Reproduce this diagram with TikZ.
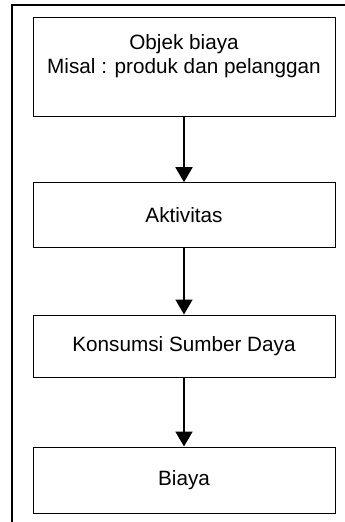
\documentclass[tikz,border=0pt]{standalone}
\usepackage{fontspec}
\setmainfont{Liberation Sans}
\usetikzlibrary{arrows.meta}

\begin{document}
\begin{tikzpicture}[x=1pt, y=-1pt,
  box/.style={draw, line width=1pt, minimum width=302pt, inner sep=0pt,
    align=center, font=\fontsize{20.7}{23.3}\selectfont},
  flow/.style={line width=1.8pt, -{Triangle[width=17pt, length=15pt]}},
  frame/.style={line width=2pt}]
  % page area
  \useasboundingbox (0,0) rectangle (345,522);
  \clip (0,0) rectangle (345,522);

  % outer frame (runs past the right and bottom page edges)
  \draw[frame] (12,5) rectangle (356,530);

  % flow boxes
  \node[box, minimum height=99pt, text depth=25pt] (obj) at (184,66.5)
    {Objek biaya\\Misal : produk dan pelanggan};
  \node[box, minimum height=65pt] (akt) at (184,215.2) {Aktivitas};
  \node[box, minimum height=62pt] (kon) at (184,346) {Konsumsi Sumber Daya};
  \node[box, minimum height=66pt] (bia) at (184,480) {Biaya};

  % connectors
  \draw[flow] (obj.south) -- (akt.north);
  \draw[flow] (akt.south) -- (kon.north);
  \draw[flow] (kon.south) -- (bia.north);
\end{tikzpicture}
\end{document}
